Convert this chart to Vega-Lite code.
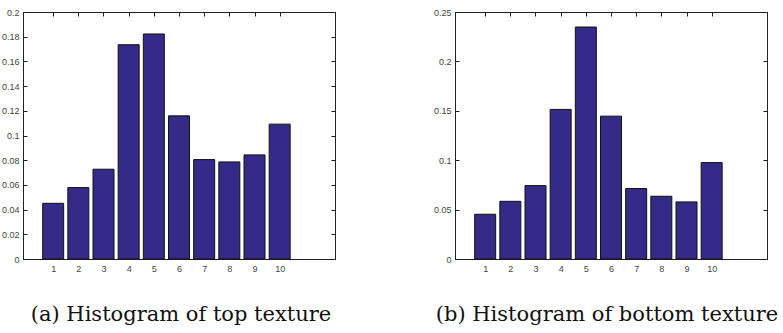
{
  "$schema": "https://vega.github.io/schema/vega-lite/v6.json",
  "padding": {"left": 0, "top": 7, "right": 0, "bottom": 0},
  "background": "white",
  "spacing": 96,
  "config": {
    "view": {"stroke": "#222", "strokeWidth": 1},
    "axis": {
      "labelFont": "Liberation Sans",
      "labelFontSize": 9,
      "labelColor": "#444",
      "domainColor": "#222",
      "tickColor": "#222",
      "tickSize": -4,
      "grid": false,
      "title": null
    },
    "title": {"font": "DejaVu Serif", "fontSize": 21, "fontWeight": "normal", "color": "#111"}
  },
  "datasets": {
    "top": [
      {"bin": 1, "freq": 0.0451}, {"bin": 2, "freq": 0.0578}, {"bin": 3, "freq": 0.0727},
      {"bin": 4, "freq": 0.1735}, {"bin": 5, "freq": 0.1822}, {"bin": 6, "freq": 0.1159},
      {"bin": 7, "freq": 0.0805}, {"bin": 8, "freq": 0.0786}, {"bin": 9, "freq": 0.0843},
      {"bin": 10, "freq": 0.1092}
    ],
    "bottom": [
      {"bin": 1, "freq": 0.0453}, {"bin": 2, "freq": 0.0584}, {"bin": 3, "freq": 0.0743},
      {"bin": 4, "freq": 0.1514}, {"bin": 5, "freq": 0.2348}, {"bin": 6, "freq": 0.1446},
      {"bin": 7, "freq": 0.0713}, {"bin": 8, "freq": 0.0635}, {"bin": 9, "freq": 0.0578},
      {"bin": 10, "freq": 0.0976}
    ]
  },
  "hconcat": [
    {
      "width": 312,
      "height": 247,
      "title": {"text": "(a) Histogram of top texture", "orient": "bottom", "offset": 31, "dx": 2},
      "data": {"name": "top"},
      "resolve": {"axis": {"x": "independent", "y": "independent"}},
      "layer": [
        {
          "mark": {"type": "bar", "size": 21, "color": "#352a87", "stroke": "#111", "strokeWidth": 1},
          "encoding": {
            "x": {"field": "bin", "type": "quantitative", "scale": {"domain": [0, 12], "nice": false, "zero": false},
                  "axis": {"values": [1,2,3,4,5,6,7,8,9,10], "labelPadding": 9}},
            "y": {"field": "freq", "type": "quantitative", "scale": {"domain": [0, 0.2], "nice": false},
                  "axis": {"values": [0,0.02,0.04,0.06,0.08,0.1,0.12,0.14,0.16,0.18,0.2], "format": "~g", "labelPadding": 8}}
          }
        },
        {
          "mark": {"type": "bar", "size": 21, "opacity": 0},
          "encoding": {
            "x": {"field": "bin", "type": "quantitative", "scale": {"domain": [0, 12], "nice": false, "zero": false},
                  "axis": {"orient": "top", "values": [1,2,3,4,5,6,7,8,9,10], "labels": false}},
            "y": {"field": "freq", "type": "quantitative", "scale": {"domain": [0, 0.2], "nice": false},
                  "axis": {"orient": "right", "values": [0,0.02,0.04,0.06,0.08,0.1,0.12,0.14,0.16,0.18,0.2], "labels": false}}
          }
        }
      ]
    },
    {
      "width": 312,
      "height": 247,
      "title": {"text": "(b) Histogram of bottom texture", "orient": "bottom", "offset": 31, "dx": -4},
      "data": {"name": "bottom"},
      "resolve": {"axis": {"x": "independent", "y": "independent"}},
      "layer": [
        {
          "mark": {"type": "bar", "size": 21, "color": "#352a87", "stroke": "#111", "strokeWidth": 1},
          "encoding": {
            "x": {"field": "bin", "type": "quantitative", "scale": {"domain": [0, 12], "nice": false, "zero": false},
                  "axis": {"values": [1,2,3,4,5,6,7,8,9,10], "labelPadding": 9}},
            "y": {"field": "freq", "type": "quantitative", "scale": {"domain": [0, 0.25], "nice": false},
                  "axis": {"values": [0,0.05,0.1,0.15,0.2,0.25], "format": "~g", "labelPadding": 8}}
          }
        },
        {
          "mark": {"type": "bar", "size": 21, "opacity": 0},
          "encoding": {
            "x": {"field": "bin", "type": "quantitative", "scale": {"domain": [0, 12], "nice": false, "zero": false},
                  "axis": {"orient": "top", "values": [1,2,3,4,5,6,7,8,9,10], "labels": false}},
            "y": {"field": "freq", "type": "quantitative", "scale": {"domain": [0, 0.25], "nice": false},
                  "axis": {"orient": "right", "values": [0,0.05,0.1,0.15,0.2,0.25], "labels": false}}
          }
        }
      ]
    }
  ]
}
